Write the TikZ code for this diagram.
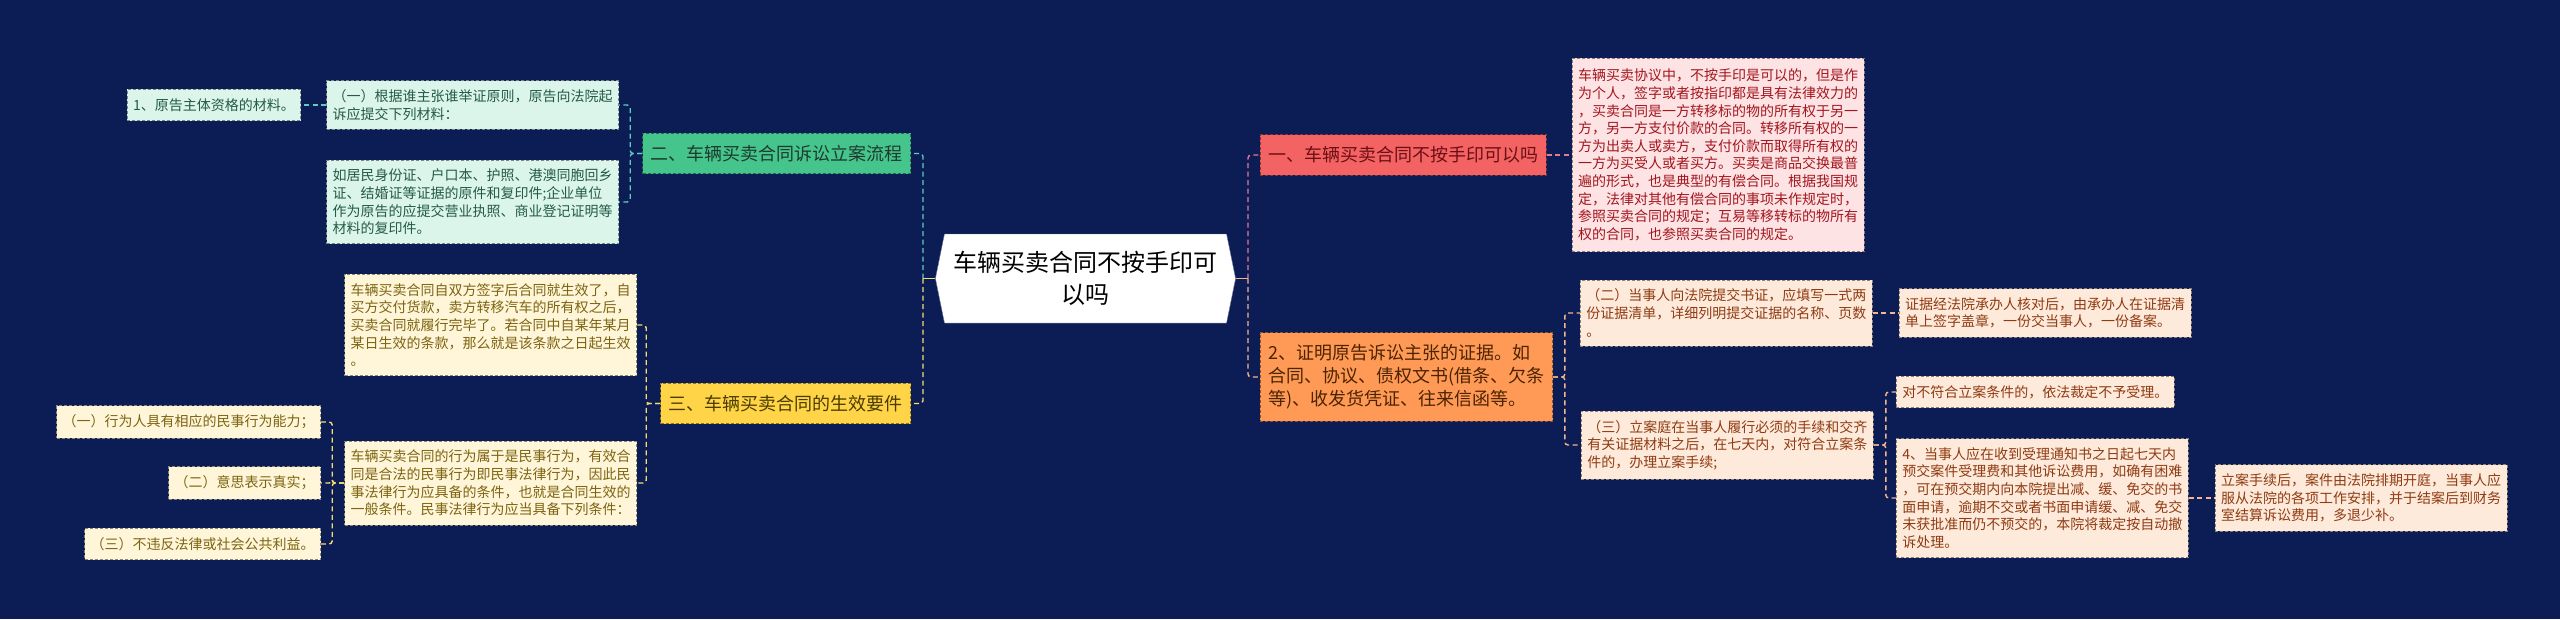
\documentclass[tikz,border=0pt]{standalone}
\usepackage{fontspec}
\setmainfont{Noto Sans CJK SC}
\usetikzlibrary{shapes.symbols, positioning}

\definecolor{bgnavy}{HTML}{0C1C54}
\definecolor{tealfill}{HTML}{45C58C}
\definecolor{tealink}{HTML}{1E3A2F}
\definecolor{tealleaf}{HTML}{DCF5EA}
\definecolor{tealleafink}{HTML}{245A48}
\definecolor{tealwirec}{HTML}{5CCDBE}
\definecolor{yelfill}{HTML}{FFD447}
\definecolor{yelink}{HTML}{4A3B00}
\definecolor{yelleaf}{HTML}{FFF6D9}
\definecolor{yelleafink}{HTML}{7D6411}
\definecolor{yelwirec}{HTML}{F3DD6E}
\definecolor{redfill}{HTML}{F46363}
\definecolor{redink}{HTML}{6A0F14}
\definecolor{redleaf}{HTML}{FDE3E3}
\definecolor{redleafink}{HTML}{A3161F}
\definecolor{redwirec}{HTML}{E6798D}
\definecolor{orgfill}{HTML}{FE9A56}
\definecolor{orgink}{HTML}{4D2300}
\definecolor{orgleaf}{HTML}{FEEADB}
\definecolor{orgleafink}{HTML}{8F3B12}
\definecolor{orgwirec}{HTML}{F6B38E}

\begin{document}
\begin{tikzpicture}[
  x=1pt, y=-1pt,
  hub/.style={signal, signal to=west and east, signal pointer angle=157, fill=white, draw=bgnavy!60, align=center, text width=264pt, inner xsep=9pt, minimum height=89pt, font=\fontsize{24}{32}\selectfont},
  branch/.style={draw, dash pattern=on 3pt off 2pt, line width=0.8pt, inner xsep=8pt, inner ysep=12pt, align=left, font=\fontsize{18}{23}\selectfont},
  leaf/.style={draw, dash pattern=on 3pt off 2pt, line width=0.8pt, inner xsep=6pt, inner ysep=9pt, align=left, font=\fontsize{14}{17.6}\selectfont},
  tealbranch/.style={branch, fill=tealfill, text=tealink, draw=tealfill!55!black},
  tealbox/.style={leaf, fill=tealleaf, text=tealleafink, draw=tealleaf!55!black},
  yelbranch/.style={branch, fill=yelfill, text=yelink, draw=yelfill!55!black},
  yelbox/.style={leaf, fill=yelleaf, text=yelleafink, draw=yelleaf!55!black},
  redbranch/.style={branch, fill=redfill, text=redink, draw=redfill!55!black},
  redbox/.style={leaf, fill=redleaf, text=redleafink, draw=redleaf!55!black},
  orgbranch/.style={branch, fill=orgfill, text=orgink, draw=orgfill!55!black},
  orgbox/.style={leaf, fill=orgleaf, text=orgleafink, draw=orgleaf!55!black},
  wire/.style={line width=1.4pt, dash pattern=on 5pt off 3.5pt, rounded corners=3pt},
  stub/.style={line width=1.4pt, solid}
]
  \fill[bgnavy] (0,0) rectangle (2560,619);
  \useasboundingbox (0,0) rectangle (2560,619);

  % centre
  \node[hub] (hub) at (1085.5,278.5) {车辆买卖合同不按手印可\\以吗};
  \coordinate (jl) at (923,278.5);
  \coordinate (jr) at (1248,278.5);

  % branches
  \node[tealbranch, anchor=east] (b2) at (911,153.5) {二、车辆买卖合同诉讼立案流程};
  \node[yelbranch, anchor=east] (b3) at (911,403.5) {三、车辆买卖合同的生效要件};
  \node[redbranch, anchor=west] (b1) at (1260,155) {一、车辆买卖合同不按手印可以吗};
  \node[orgbranch, anchor=west] (b4) at (1260,377) {2、证明原告诉讼主张的证据。如\\合同、协议、债权文书(借条、欠条\\等)、收发货凭证、往来信函等。};

  % branch two
  \node[tealbox, anchor=east] (c21) at (619,105) {（一）根据谁主张谁举证原则，原告向法院起\\诉应提交下列材料：};
  \node[tealbox, anchor=east] (c22) at (619,202) {如居民身份证、户口本、护照、港澳同胞回乡\\证、结婚证等证据的原件和复印件;企业单位\\作为原告的应提交营业执照、商业登记证明等\\材料的复印件。};
  \node[tealbox, left=25pt of c21] (c211) {1、原告主体资格的材料。};

  % branch three
  \node[yelbox, anchor=east] (c31) at (637,325) {车辆买卖合同自双方签字后合同就生效了，自\\买方交付货款，卖方转移汽车的所有权之后，\\买卖合同就履行完毕了。若合同中自某年某月\\某日生效的条款，那么就是该条款之日起生效\\。};
  \node[yelbox, anchor=east] (c32) at (637,483) {车辆买卖合同的行为属于是民事行为，有效合\\同是合法的民事行为即民事法律行为，因此民\\事法律行为应具备的条件，也就是合同生效的\\一般条件。民事法律行为应当具备下列条件：};
  \node[yelbox, anchor=east] (c321) at (321,422) {（一）行为人具有相应的民事行为能力；};
  \node[yelbox, anchor=east] (c322) at (321,483) {（二）意思表示真实；};
  \node[yelbox, anchor=east] (c323) at (321,544) {（三）不违反法律或社会公共利益。};

  % branch one
  \node[redbox, right=25pt of b1, inner ysep=11pt] (c11) {车辆买卖协议中，不按手印是可以的，但是作\\为个人，签字或者按指印都是具有法律效力的\\，买卖合同是一方转移标的物的所有权于另一\\方，另一方支付价款的合同。转移所有权的一\\方为出卖人或卖方，支付价款而取得所有权的\\一方为买受人或者买方。买卖是商品交换最普\\遍的形式，也是典型的有偿合同。根据我国规\\定，法律对其他有偿合同的事项未作规定时，\\参照买卖合同的规定；互易等移转标的物所有\\权的合同，也参照买卖合同的规定。};

  % branch four
  \node[orgbox, anchor=west] (c41) at (1580,313) {（二）当事人向法院提交书证，应填写一式两\\份证据清单，详细列明提交证据的名称、页数\\。};
  \node[orgbox, anchor=west] (c42) at (1581,445) {（三）立案庭在当事人履行必须的手续和交齐\\有关证据材料之后，在七天内，对符合立案条\\件的，办理立案手续;};
  \node[orgbox, right=26pt of c41] (c411) {证据经法院承办人核对后，由承办人在证据清\\单上签字盖章，一份交当事人，一份备案。};
  \node[orgbox, anchor=west] (c421) at (1896,392) {对不符合立案条件的，依法裁定不予受理。};
  \node[orgbox, anchor=west] (c422) at (1896,498) {4、当事人应在收到受理通知书之日起七天内\\预交案件受理费和其他诉讼费用，如确有困难\\，可在预交期内向本院提出减、缓、免交的书\\面申请，逾期不交或者书面申请缓、减、免交\\未获批准而仍不预交的，本院将裁定按自动撤\\诉处理。};
  \node[orgbox, right=26pt of c422] (c4221) {立案手续后，案件由法院排期开庭，当事人应\\服从法院的各项工作安排，并于结案后到财务\\室结算诉讼费用，多退少补。};

  % connectors
  \draw[wire, tealwirec] (jl) |- (b2.east);
  \draw[wire, yelwirec] (jl) |- (b3.east);
  \draw[stub, yelwirec] (hub.west) -- (jl);
  \draw[wire, redwirec] (jr) |- (b1.west);
  \draw[wire, orgwirec] (jr) |- (b4.west);
  \draw[stub, orgwirec] (hub.east) -- (jr);

  \draw[wire, tealwirec] (b2.west) -- ++(-12,0) |- (c21.east);
  \draw[wire, tealwirec] (b2.west) -- ++(-12,0) |- (c22.east);
  \draw[wire, tealwirec] (c21.west) -- (c211.east);

  \draw[wire, yelwirec] (b3.west) -- ++(-14,0) |- (c31.east);
  \draw[wire, yelwirec] (b3.west) -- ++(-14,0) |- (c32.east);
  \draw[wire, yelwirec] (c32.west) -- ++(-12,0) |- (c321.east);
  \draw[wire, yelwirec] (c32.west) -- ++(-12,0) |- (c322.east);
  \draw[wire, yelwirec] (c32.west) -- ++(-12,0) |- (c323.east);

  \draw[wire, redwirec] (b1.east) -- (c11.west);

  \draw[wire, orgwirec] (b4.east) -- ++(12,0) |- (c41.west);
  \draw[wire, orgwirec] (b4.east) -- ++(12,0) |- (c42.west);
  \draw[wire, orgwirec] (c41.east) -- (c411.west);
  \draw[wire, orgwirec] (c42.east) -- ++(12,0) |- (c421.west);
  \draw[wire, orgwirec] (c42.east) -- ++(12,0) |- (c422.west);
  \draw[wire, orgwirec] (c422.east) -- (c4221.west);
\end{tikzpicture}
\end{document}
